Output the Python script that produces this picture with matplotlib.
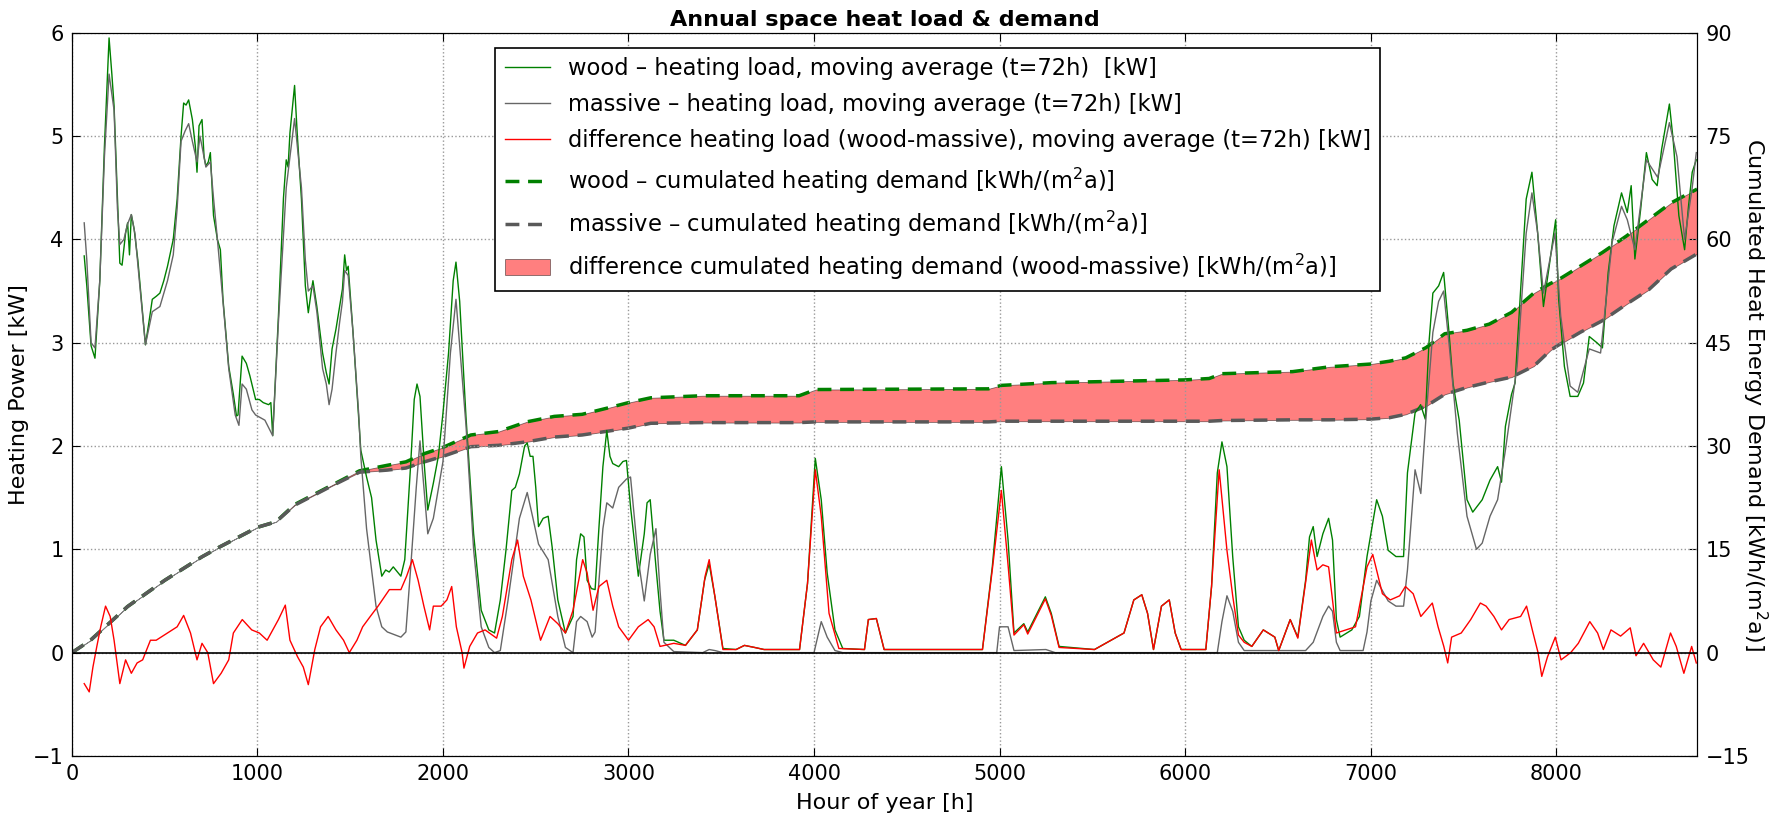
import numpy as np
import matplotlib
matplotlib.use('Agg')
import matplotlib.pyplot as plt

# moving average heating load (t=72h) [kW]
wood_h = [66, 80, 103, 124, 150, 175, 200, 215, 227, 245, 258, 270, 289, 300, 310, 320, 335, 355, 371, 396,
          415, 433, 455, 474, 495, 515, 546, 567, 588, 602, 615, 629, 649, 665, 674, 685, 701, 712, 722, 735,
          746, 763, 784, 800, 814, 845, 870, 887, 895, 917, 940, 959, 990, 1010, 1031, 1060, 1072, 1082, 1113, 1140,
          1155, 1165, 1175, 1200, 1215, 1237, 1258, 1274, 1290, 1299, 1320, 1351, 1371, 1386, 1402, 1423, 1443, 1458, 1470, 1480,
          1489, 1515, 1546, 1557, 1588, 1615, 1639, 1670, 1691, 1710, 1732, 1773, 1794, 1825, 1845, 1860, 1876, 1900, 1918, 1948,
          1975, 2000, 2030, 2055, 2070, 2090, 2124, 2165, 2206, 2247, 2278, 2309, 2340, 2371, 2390, 2412, 2440, 2454, 2470, 2485,
          2500, 2515, 2540, 2567, 2590, 2619, 2660, 2701, 2720, 2742, 2760, 2777, 2800, 2820, 2841, 2862, 2883, 2900, 2915, 2947,
          2970, 2989, 3011, 3053, 3085, 3100, 3117, 3148, 3170, 3191, 3244, 3307, 3371, 3410, 3435, 3466, 3509, 3580, 3625, 3680,
          3731, 3922, 3965, 4007, 4039, 4071, 4113, 4155, 4272, 4293, 4336, 4378, 4908, 4961, 5010, 5046, 5078, 5131, 5152, 5194,
          5247, 5279, 5321, 5512, 5671, 5724, 5767, 5798, 5830, 5873, 5915, 5947, 5979, 6112, 6143, 6174, 6199, 6226, 6257, 6288,
          6319, 6360, 6422, 6484, 6505, 6567, 6608, 6650, 6671, 6691, 6712, 6743, 6774, 6795, 6816, 6836, 6899, 6940, 6981, 7002,
          7033, 7064, 7095, 7137, 7178, 7199, 7240, 7270, 7295, 7315, 7336, 7367, 7394, 7423, 7445, 7478, 7520, 7551, 7602, 7644,
          7685, 7706, 7727, 7760, 7779, 7808, 7839, 7870, 7901, 7932, 7963, 7998, 8014, 8045, 8076, 8117, 8148, 8179, 8220, 8250,
          8281, 8312, 8353, 8384, 8405, 8425, 8456, 8487, 8518, 8545, 8569, 8611, 8631, 8662, 8693, 8714, 8734, 8756]
wood_kw = [3.84, 3.55, 2.97, 2.85, 3.6, 4.9, 5.95, 5.6, 5.29, 4.4, 3.77, 3.75, 4.06, 4.16, 3.85, 4.24, 4.1, 3.8, 3.48, 2.98,
           3.2, 3.42, 3.45, 3.48, 3.6, 3.74, 4.0, 4.39, 5.0, 5.32, 5.3, 5.35, 5.16, 4.9, 4.65, 5.1, 5.16, 4.8, 4.71, 4.75,
           4.84, 4.23, 4.0, 3.9, 3.42, 2.77, 2.5, 2.29, 2.3, 2.87, 2.8, 2.68, 2.45, 2.45, 2.42, 2.4, 2.42, 2.1, 3.26, 4.4,
           4.77, 4.7, 5.03, 5.49, 5.0, 4.39, 3.55, 3.29, 3.5, 3.6, 3.35, 2.9, 2.71, 2.6, 2.94, 3.13, 3.35, 3.52, 3.85, 3.7,
           3.74, 3.1, 2.26, 1.96, 1.7, 1.5, 1.09, 0.74, 0.8, 0.78, 0.83, 0.74, 0.9, 1.8, 2.45, 2.6, 2.48, 1.8, 1.38, 1.64,
           1.9, 2.32, 2.9, 3.6, 3.78, 3.4, 2.28, 1.15, 0.41, 0.22, 0.19, 0.51, 1.0, 1.57, 1.6, 1.73, 2.0, 2.03, 1.9, 1.9,
           1.6, 1.22, 1.3, 1.32, 1.0, 0.51, 0.19, 0.35, 0.9, 1.15, 1.12, 0.7, 0.62, 0.61, 1.22, 1.8, 2.15, 1.9, 1.83, 1.8,
           1.85, 1.86, 1.41, 0.74, 1.15, 1.45, 1.48, 0.83, 0.4, 0.12, 0.12, 0.07, 0.22, 0.7, 0.86, 0.54, 0.04, 0.03, 0.07, 0.05,
           0.03, 0.03, 0.67, 1.88, 1.48, 0.77, 0.22, 0.04, 0.03, 0.32, 0.33, 0.03, 0.03, 0.83, 1.8, 1.09, 0.19, 0.28, 0.2, 0.35,
           0.54, 0.38, 0.06, 0.03, 0.19, 0.51, 0.56, 0.38, 0.03, 0.45, 0.51, 0.19, 0.03, 0.03, 0.64, 1.74, 2.04, 1.8, 0.93, 0.25,
           0.12, 0.06, 0.22, 0.15, 0.02, 0.32, 0.15, 0.7, 1.12, 1.22, 0.93, 1.15, 1.3, 1.09, 0.32, 0.15, 0.22, 0.35, 0.93, 1.15,
           1.48, 1.32, 0.99, 0.93, 0.93, 1.74, 2.32, 2.4, 2.26, 3.0, 3.48, 3.55, 3.68, 3.1, 2.6, 2.25, 1.48, 1.36, 1.48, 1.67,
           1.8, 1.65, 2.19, 2.5, 2.61, 3.48, 4.39, 4.65, 4.06, 3.35, 3.74, 4.19, 3.42, 2.77, 2.48, 2.48, 2.61, 3.06, 3.0, 2.95,
           3.68, 4.13, 4.45, 4.26, 4.52, 3.81, 4.29, 4.84, 4.58, 4.52, 4.87, 5.31, 4.97, 4.23, 3.9, 4.32, 4.65, 4.77]

massive_h = [66, 80, 103, 124, 150, 175, 200, 227, 245, 258, 280, 300, 320, 340, 371, 396, 433, 474, 515, 546,
             567, 588, 610, 629, 649, 674, 690, 701, 722, 746, 763, 784, 814, 845, 880, 900, 917, 940, 970, 990,
             1040, 1082, 1113, 1155, 1175, 1200, 1237, 1258, 1274, 1299, 1320, 1351, 1371, 1386, 1402, 1423, 1443, 1458, 1470, 1489,
             1515, 1546, 1557, 1588, 1639, 1670, 1700, 1773, 1800, 1825, 1856, 1876, 1918, 1948, 2000, 2040, 2070, 2124, 2165, 2206,
             2247, 2278, 2309, 2350, 2412, 2454, 2485, 2515, 2567, 2619, 2660, 2701, 2720, 2742, 2777, 2804, 2820, 2862, 2883, 2915,
             2947, 2989, 3011, 3053, 3085, 3117, 3148, 3170, 3191, 3244, 3400, 3435, 3466, 3509, 4000, 4039, 4071, 4113, 4155, 4985,
             5000, 5046, 5078, 5250, 5300, 6174, 6199, 6226, 6257, 6288, 6319, 6650, 6691, 6743, 6774, 6795, 6816, 6836, 6960, 6981,
             7002, 7033, 7064, 7095, 7137, 7178, 7199, 7240, 7271, 7300, 7336, 7367, 7394, 7426, 7468, 7520, 7571, 7602, 7644, 7685,
             7727, 7790, 7839, 7870, 7901, 7932, 7994, 8025, 8076, 8117, 8179, 8240, 8302, 8353, 8384, 8425, 8487, 8548, 8611, 8652,
             8693, 8734, 8756]
massive_kw = [4.16, 3.8, 3.0, 2.95, 3.6, 4.8, 5.6, 5.25, 4.3, 3.95, 4.0, 4.15, 4.24, 4.05, 3.45, 2.98, 3.3, 3.35, 3.6, 3.85,
              4.3, 4.95, 5.05, 5.12, 4.95, 4.75, 5.0, 4.9, 4.7, 4.75, 4.4, 4.0, 3.4, 2.75, 2.3, 2.2, 2.6, 2.55, 2.35, 2.3,
              2.25, 2.1, 3.2, 4.5, 4.8, 5.17, 4.5, 3.8, 3.5, 3.55, 3.3, 2.75, 2.6, 2.4, 2.55, 2.9, 3.2, 3.4, 3.7, 3.65,
              3.1, 2.3, 1.9, 1.2, 0.45, 0.25, 0.2, 0.15, 0.2, 0.8, 1.6, 2.05, 1.15, 1.3, 1.85, 2.9, 3.42, 2.2, 1.0, 0.25,
              0.05, 0.0, 0.02, 0.5, 1.3, 1.55, 1.3, 1.05, 0.9, 0.35, 0.05, 0.0, 0.3, 0.35, 0.3, 0.15, 0.2, 1.2, 1.45, 1.4,
              1.6, 1.68, 1.7, 0.9, 0.5, 0.95, 1.2, 0.6, 0.1, 0.01, 0.0, 0.03, 0.02, 0.0, 0.0, 0.3, 0.15, 0.02, 0.0, 0.0,
              0.25, 0.25, 0.02, 0.03, 0.0, 0.0, 0.3, 0.55, 0.4, 0.1, 0.02, 0.02, 0.1, 0.35, 0.45, 0.4, 0.1, 0.02, 0.02, 0.2,
              0.5, 0.7, 0.6, 0.5, 0.45, 0.45, 0.8, 1.77, 1.54, 2.3, 3.1, 3.4, 3.5, 2.94, 2.12, 1.32, 1.0, 1.06, 1.32, 1.48,
              1.96, 2.77, 4.06, 4.45, 4.06, 3.48, 4.06, 3.26, 2.58, 2.52, 2.94, 2.9, 3.97, 4.32, 4.19, 3.9, 4.77, 4.6, 5.13, 4.8,
              4.0, 4.5, 4.84]

diff_h = [66, 93, 113, 134, 155, 181, 206, 227, 258, 289, 320, 351, 381, 423, 454, 515, 567, 602, 639, 674,
          701, 732, 763, 804, 845, 870, 918, 969, 1010, 1052, 1113, 1150, 1175, 1216, 1247, 1274, 1309, 1340, 1381, 1423,
          1464, 1495, 1536, 1567, 1608, 1650, 1711, 1773, 1804, 1835, 1866, 1897, 1928, 1948, 1990, 2021, 2047, 2072, 2103, 2113,
          2144, 2186, 2227, 2289, 2320, 2371, 2402, 2433, 2474, 2526, 2577, 2619, 2660, 2701, 2753, 2777, 2809, 2841, 2883, 2915,
          2947, 3000, 3053, 3106, 3138, 3170, 3244, 3307, 3371, 3413, 3435, 3466, 3509, 3580, 3625, 3680, 3731, 3922, 3965, 4007,
          4039, 4081, 4134, 4272, 4293, 4336, 4378, 4908, 4961, 5010, 5046, 5078, 5131, 5152, 5194, 5247, 5279, 5321, 5512, 5671,
          5724, 5767, 5798, 5830, 5873, 5915, 5947, 5979, 6112, 6143, 6184, 6226, 6257, 6288, 6319, 6360, 6422, 6484, 6505, 6567,
          6608, 6650, 6681, 6712, 6743, 6774, 6816, 6919, 6981, 7012, 7064, 7106, 7157, 7188, 7230, 7271, 7333, 7364, 7395, 7416,
          7437, 7489, 7540, 7592, 7623, 7665, 7706, 7747, 7809, 7841, 7872, 7903, 7923, 7954, 7996, 8027, 8079, 8120, 8182, 8224,
          8255, 8296, 8348, 8400, 8431, 8472, 8524, 8565, 8617, 8648, 8689, 8731, 8756]
diff_kw = [-0.30, -0.38, -0.14, 0.06, 0.25, 0.45, 0.35, 0.12, -0.30, -0.07, -0.20, -0.10, -0.07, 0.12, 0.12, 0.19, 0.25, 0.36, 0.19, -0.07,
           0.09, 0.0, -0.30, -0.20, -0.07, 0.19, 0.32, 0.22, 0.19, 0.12, 0.32, 0.46, 0.12, -0.04, -0.14, -0.31, 0.03, 0.25, 0.35, 0.22,
           0.12, 0.0, 0.12, 0.25, 0.35, 0.45, 0.61, 0.61, 0.74, 0.90, 0.70, 0.45, 0.22, 0.45, 0.45, 0.51, 0.64, 0.25, 0.0, -0.15,
           0.06, 0.19, 0.22, 0.14, 0.35, 0.90, 1.09, 0.74, 0.51, 0.12, 0.35, 0.28, 0.19, 0.41, 0.90, 0.77, 0.41, 0.64, 0.70, 0.45,
           0.25, 0.12, 0.25, 0.32, 0.25, 0.06, 0.09, 0.07, 0.22, 0.74, 0.90, 0.54, 0.03, 0.03, 0.07, 0.05, 0.03, 0.03, 0.67, 1.77,
           1.32, 0.38, 0.04, 0.03, 0.32, 0.33, 0.03, 0.03, 0.80, 1.57, 0.85, 0.17, 0.27, 0.18, 0.33, 0.52, 0.36, 0.05, 0.03, 0.19,
           0.51, 0.56, 0.38, 0.03, 0.45, 0.51, 0.19, 0.03, 0.03, 0.64, 1.77, 0.99, 0.55, 0.17, 0.10, 0.06, 0.22, 0.15, 0.02, 0.32,
           0.14, 0.68, 1.09, 0.80, 0.85, 0.83, 0.19, 0.25, 0.83, 0.95, 0.57, 0.51, 0.55, 0.64, 0.57, 0.35, 0.48, 0.25, 0.06, -0.10,
           0.15, 0.19, 0.32, 0.48, 0.45, 0.35, 0.22, 0.32, 0.35, 0.45, 0.22, 0.0, -0.23, -0.04, 0.15, -0.07, 0.0, 0.09, 0.30, 0.19,
           0.03, 0.22, 0.16, 0.24, -0.03, 0.09, -0.07, -0.14, 0.19, 0.06, -0.20, 0.06, -0.10]

# cumulated heating demand [kWh/(m2a)]
cum_h = [0, 100, 300, 500, 700, 800, 1000, 1100, 1200, 1400, 1550, 1700, 1800, 1900, 2000, 2150, 2300, 2450, 2600, 2750,
         2900, 3000, 3120, 3400, 3920, 4010, 4940, 5010, 5280, 6000, 6130, 6200, 6580, 6780, 7000, 7100, 7190, 7300, 7400, 7520,
         7640, 7760, 7880, 7970, 8010, 8130, 8250, 8380, 8500, 8620, 8760]
wood_cum = [0, 1.8, 6.7, 10.5, 13.9, 15.4, 18.2, 19.0, 21.5, 24.3, 26.4, 27.2, 27.7, 28.9, 29.8, 31.6, 32.1, 33.5, 34.3, 34.6,
            35.6, 36.3, 37.0, 37.3, 37.3, 38.2, 38.3, 38.8, 39.2, 39.6, 39.8, 40.5, 40.8, 41.5, 41.9, 42.3, 42.8, 44.3, 46.3, 46.8,
            47.7, 49.4, 52.2, 53.6, 54.1, 56.1, 58.1, 60.5, 62.9, 65.3, 67.3]
massive_cum = [0, 1.8, 6.7, 10.5, 13.9, 15.4, 18.2, 19.0, 21.4, 24.2, 26.2, 26.5, 26.8, 27.7, 28.5, 29.9, 30.1, 30.6, 31.3, 31.6,
               32.2, 32.6, 33.3, 33.4, 33.4, 33.5, 33.5, 33.6, 33.6, 33.6, 33.6, 33.7, 33.8, 33.8, 33.9, 34.1, 34.6, 35.8, 37.5, 38.5,
               39.3, 40.0, 41.6, 43.9, 44.6, 46.5, 48.2, 50.6, 52.7, 55.7, 57.9]

plt.rcParams['font.family'] = 'DejaVu Sans'
plt.rcParams['font.size'] = 16

fig = plt.figure(figsize=(17.77, 8.19), dpi=100)
ax1 = fig.add_subplot(111)
ax2 = ax1.twinx()
fig.subplots_adjust(left=0.0405, right=0.955, bottom=0.077, top=0.96)

# cumulated demand on the right axis, drawn below the load curves
fill = ax2.fill_between(cum_h, massive_cum, wood_cum, facecolor='r', edgecolor='k', linewidth=0.6, alpha=0.5,
                        label='difference cumulated heating demand (wood-massive) [kWh/(m$^2$a)]')
lc1, = ax2.plot(cum_h, wood_cum, color='g', ls='--', lw=2.5, dashes=(4, 2.5),
                label='wood \u2013 cumulated heating demand [kWh/(m$^2$a)]')
lc2, = ax2.plot(cum_h, massive_cum, color='0.35', ls='--', lw=2.5, dashes=(4, 2.5),
                label='massive \u2013 cumulated heating demand [kWh/(m$^2$a)]')

l1, = ax1.plot(wood_h, wood_kw, color='g', lw=1,
               label='wood \u2013 heating load, moving average (t=72h)  [kW]')
l2, = ax1.plot(massive_h, massive_kw, color='0.4', lw=1,
               label='massive \u2013 heating load, moving average (t=72h) [kW]')
l3, = ax1.plot(diff_h, diff_kw, color='r', lw=1,
               label='difference heating load (wood-massive), moving average (t=72h) [kW]')
ax1.axhline(0, color='k', lw=1.2)

ax1.set_zorder(ax2.get_zorder() + 1)
ax1.patch.set_visible(False)

ax1.set_xlim(0, 8760)
ax1.set_ylim(-1, 6)
ax2.set_ylim(-15, 90)
ax2.set_yticks(np.arange(-15, 91, 15))
ax1.grid(True, color='0.6', ls=':', lw=1)

for a in (ax1, ax2):
    a.tick_params(direction='in', length=6, labelsize=15, pad=6)
ax1.tick_params(top=True)

ax1.set_xlabel('Hour of year [h]', labelpad=6)
ax1.set_ylabel('Heating Power [kW]', labelpad=3)
ax2.set_ylabel('Cumulated Heat Energy Demand [kWh/(m$^2$a)]', rotation=270, labelpad=14)
ax1.set_title('Annual space heat load & demand', fontweight='bold', fontsize=16, pad=5)

leg = ax1.legend(handles=[l1, l2, l3, lc1, lc2, fill], loc='upper left', bbox_to_anchor=(0.2606, 0.979),
                 borderaxespad=0, fancybox=False, framealpha=1, edgecolor='k', fontsize=16.3, labelspacing=0.58)
leg.get_frame().set_linewidth(1.2)

fig.savefig('out.png', dpi=100)
